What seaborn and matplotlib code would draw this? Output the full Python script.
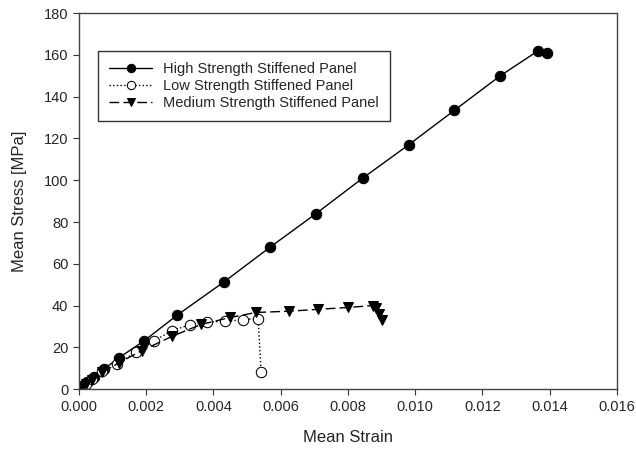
import pandas as pd
import matplotlib
matplotlib.use("Agg")
import matplotlib.pyplot as plt
import seaborn as sns

# Dados (deformação média x tensão média)
high_strain = [0.00003, 0.0001, 0.00024, 0.00044, 0.00074, 0.00119, 0.00193, 0.00293,
               0.00433, 0.00569, 0.00705, 0.00844, 0.00981, 0.01117, 0.01253, 0.01366, 0.01393]
high_stress = [0.5, 1.5, 3.2, 5.8, 9.5, 15.0, 23.0, 35.5,
               51.5, 68.0, 84.0, 101.0, 117.0, 133.5, 150.0, 162.0, 161.0]

low_strain = [0.00002, 0.0002, 0.0004, 0.0007, 0.00113, 0.00169, 0.00222, 0.00276,
              0.00329, 0.00382, 0.00436, 0.00489, 0.00533, 0.00542]
low_stress = [0.3, 2.5, 5.0, 8.5, 11.8, 17.8, 23.0, 27.9,
              30.8, 32.2, 32.4, 33.3, 33.8, 8.2]

med_strain = [0.00002, 0.0001, 0.0002, 0.0004, 0.0007, 0.00119, 0.00187, 0.00276,
              0.00364, 0.0045, 0.00527, 0.00625, 0.00711, 0.008, 0.00874, 0.00883, 0.00892, 0.009]
med_stress = [0.3, 1.0, 2.5, 4.5, 8.0, 12.6, 18.4, 25.2,
              31.0, 34.3, 36.7, 37.3, 38.2, 39.1, 40.0, 38.6, 36.2, 33.3]

labels = ['High Strength Stiffened Panel', 'Low Strength Stiffened Panel',
          'Medium Strength Stiffened Panel']

sns.set_style('ticks')
plt.rcParams['font.family'] = ['Liberation Sans', 'DejaVu Sans']

fig = plt.figure(figsize=(6.36, 4.53), dpi=100)
ax = fig.add_axes([0.124, 0.141, 0.846, 0.830])

# Série de alta resistência
sns.lineplot(x=high_strain, y=high_stress, sort=False, ax=ax, color='black', linewidth=1,
             linestyle='-', marker='o', markersize=7.5, markerfacecolor='black',
             markeredgecolor='black', label=labels[0])
# Série de baixa resistência
sns.lineplot(x=low_strain, y=low_stress, sort=False, ax=ax, color='black', linewidth=1,
             linestyle=':', marker='o', markersize=7.5, markerfacecolor='white',
             markeredgecolor='black', label=labels[1])
# Série de média resistência
sns.lineplot(x=med_strain, y=med_stress, sort=False, ax=ax, color='black', linewidth=1,
             linestyle=(0, (7, 3)), marker='v', markersize=7.5, markerfacecolor='black',
             markeredgecolor='black', label=labels[2])

ax.set_xlim(0, 0.016)
ax.set_ylim(0, 180)
ax.set_xticks([i * 0.002 for i in range(9)])
ax.set_xticklabels([f'{i * 0.002:.3f}' for i in range(9)])
ax.set_yticks(range(0, 181, 20))
ax.tick_params(axis='both', labelsize=10.5, direction='out', length=4, color='#333333')
ax.tick_params(top=False, right=False)
for s in ax.spines.values():
    s.set_color('#444444')
    s.set_linewidth(1)

ax.set_xlabel('Mean Strain', fontsize=12, labelpad=12)
ax.set_ylabel('Mean Stress [MPa]', fontsize=12, labelpad=12)

leg = ax.legend(loc='upper left', bbox_to_anchor=(0.035, 0.90), borderaxespad=0,
                fontsize=10.5, frameon=True, fancybox=False, edgecolor='black',
                handlelength=3.0, handletextpad=0.75, borderpad=0.75, labelspacing=0.22,
                markerscale=0.8)
leg.get_frame().set_linewidth(1)

fig.savefig('out.png', dpi=100)
